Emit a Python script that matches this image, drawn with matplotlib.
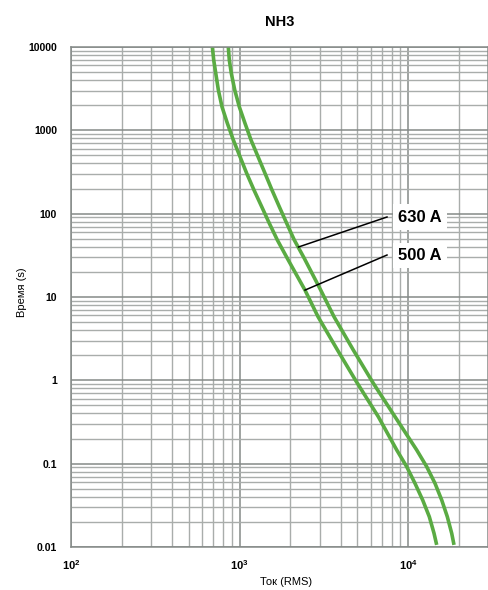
import matplotlib
matplotlib.use("Agg")
import matplotlib.pyplot as plt
from matplotlib.ticker import LogLocator, NullFormatter, FixedLocator

plt.rcParams['font.family'] = ['Liberation Sans', 'DejaVu Sans']
plt.rcParams['mathtext.fontset'] = 'custom'
plt.rcParams['mathtext.rm'] = 'Liberation Sans'
plt.rcParams['mathtext.bf'] = 'Liberation Sans:bold'

# Time-current characteristics, NH3 fuse links (current in A, time in s)
current_500 = [690, 703, 723, 749, 787, 847, 919, 1007, 1103, 1219, 1355, 1503, 1677,
               1922, 2447, 2924, 3815, 4914, 6665, 8570, 9823, 11000, 12220, 13380,
               14270, 14800]
time_500 = [10000, 6982, 4834, 3048, 1921, 1215, 766, 483, 305, 192, 121, 76.6, 48.3,
            29.1, 12.1, 5.80, 2.31, 0.98, 0.366, 0.146, 0.092, 0.0581, 0.0366, 0.0231,
            0.0146, 0.0106]

current_630 = [858, 870, 894, 937, 997, 1078, 1170, 1288, 1417, 1559, 1723, 1906, 2114,
               2424, 3034, 3638, 4736, 6227, 8373, 11260, 12910, 14460, 15850, 17110,
               18170, 18750]
time_630 = [10000, 6982, 4834, 3048, 1921, 1215, 766, 483, 305, 192, 121, 76.6, 48.3,
            29.1, 12.1, 5.80, 2.31, 0.921, 0.366, 0.146, 0.092, 0.0581, 0.0366, 0.0231,
            0.0146, 0.0106]

y_ticks = [10000, 1000, 100, 10, 1, 0.1, 0.01]
y_tick_labels = ['10000', '1000', '100', '10', '1', '0.1', '0.01']
x_ticks = [100, 1000, 10000]
x_tick_labels = [r'$\mathbf{10^{2}}$', r'$\mathbf{10^{3}}$', r'$\mathbf{10^{4}}$']

curve_labels = ['500 A', '630 A']
# leader line: point on curve -> label anchor
leader_500 = ([2447, 7506], [12.1, 31.9])
leader_630 = ([2239, 7506], [39.8, 91.2])
label_pos_500 = (11780, 31.5)
label_pos_630 = (11780, 91.2)

W, H = 488, 590
fig = plt.figure(figsize=(W / 100, H / 100), dpi=100)
ax_left, ax_right, ax_top, ax_bottom = 71, 487.5, 47, 547
ax = fig.add_axes([ax_left / W, 1 - ax_bottom / H, (ax_right - ax_left) / W, (ax_bottom - ax_top) / H])

decade_px = 168.5
ax.set_xscale('log')
ax.set_yscale('log')
ax.set_xlim(100, 100 * 10 ** ((ax_right - ax_left) / decade_px))
ax.set_ylim(0.01, 10000)

grid_major = '#858a88'
grid_minor = '#a9adab'
ax.xaxis.set_major_locator(FixedLocator(x_ticks))
ax.xaxis.set_minor_locator(LogLocator(base=10, subs=range(2, 10), numticks=20))
ax.yaxis.set_major_locator(FixedLocator(y_ticks))
ax.yaxis.set_minor_locator(LogLocator(base=10, subs=range(2, 10), numticks=20))
ax.xaxis.set_minor_formatter(NullFormatter())
ax.yaxis.set_minor_formatter(NullFormatter())
ax.set_xticklabels(x_tick_labels)
ax.set_yticklabels(y_tick_labels, fontweight='bold')
ax.grid(True, which='major', color=grid_major, lw=1.1)
ax.grid(True, which='minor', color=grid_minor, lw=1.0)
ax.set_axisbelow(True)
ax.tick_params(which='both', length=0)
ax.tick_params(axis='y', pad=10, labelsize=7.5)
ax.tick_params(axis='x', pad=8, labelsize=8)
for s in ax.spines.values():
    s.set_color(grid_major)
    s.set_linewidth(1.1)

green = '#5aab43'
ax.plot(current_500, time_500, color=green, lw=2.6, solid_capstyle='butt', solid_joinstyle='round')
ax.plot(current_630, time_630, color=green, lw=2.6, solid_capstyle='butt', solid_joinstyle='round')

ax.plot(*leader_500, color='black', lw=1.1)
ax.plot(*leader_630, color='black', lw=1.1)
box = dict(boxstyle='square,pad=0.32', fc='white', ec='none')
ax.text(*label_pos_500, curve_labels[0], fontsize=12, fontweight='bold', ha='center', va='center', bbox=box)
ax.text(*label_pos_630, curve_labels[1], fontsize=12, fontweight='bold', ha='center', va='center', bbox=box)

fig.text(280 / W, 1 - 21.5 / H, 'NH3', fontsize=10.5, fontweight='bold', ha='center', va='center')
fig.text(286 / W, 1 - 582 / H, 'Ток (RMS)', fontsize=8, ha='center', va='center')
fig.text(22 / W, 1 - 292 / H, 'Время (s)', fontsize=8, ha='center', va='center', rotation=90)

fig.savefig('out.png', dpi=100)
